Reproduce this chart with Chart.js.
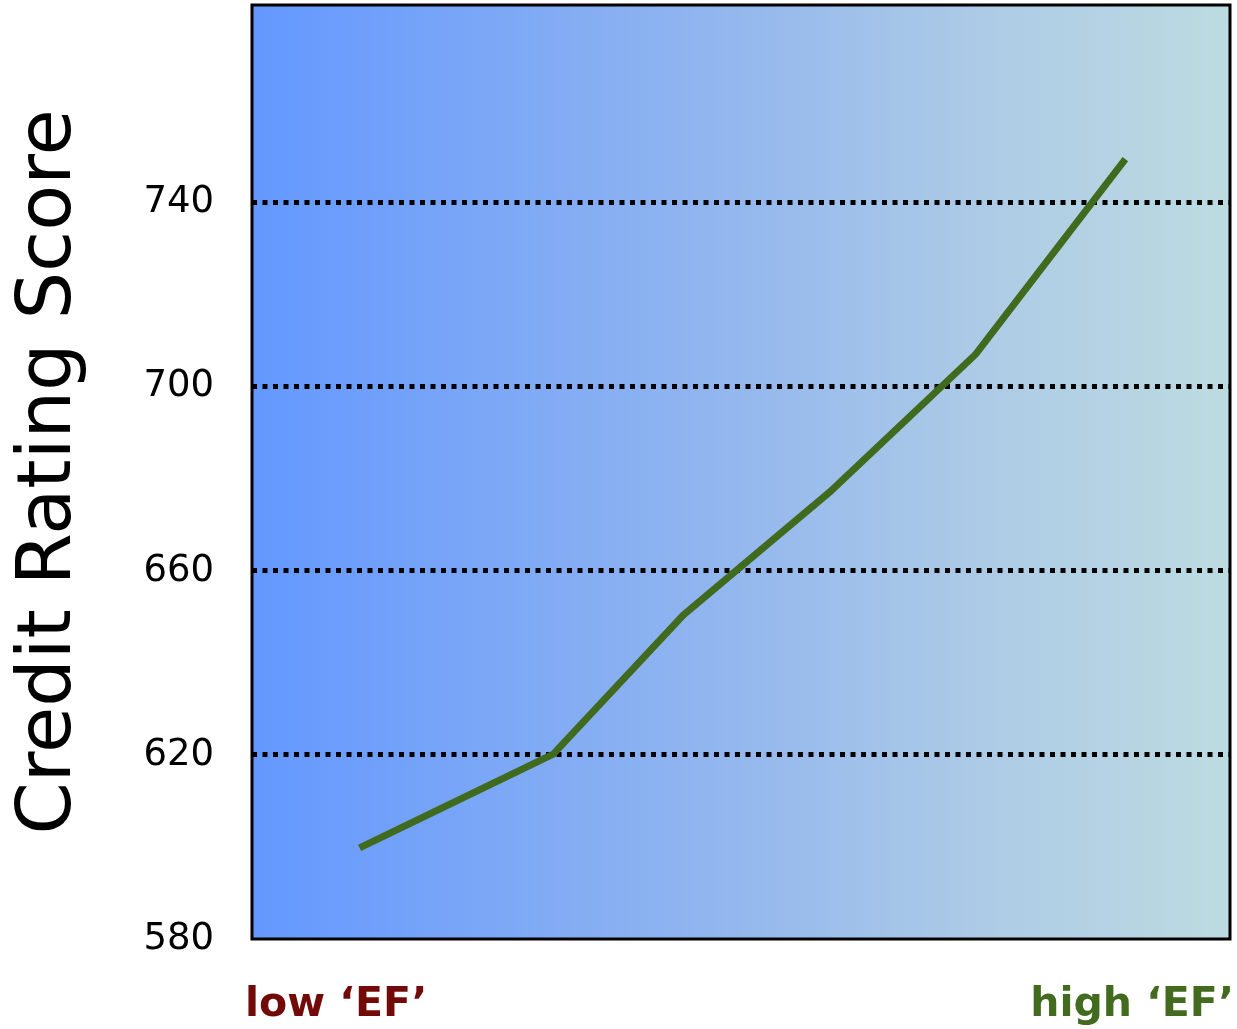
<!DOCTYPE html>
<html>
<head>
<meta charset="utf-8">
<script src="https://cdn.jsdelivr.net/npm/chart.js@4/dist/chart.umd.min.js"></script>
<style>
  html, body { margin: 0; padding: 0; background: #ffffff; }
  #wrap { width: 1237px; height: 1029px; position: relative; }
</style>
</head>
<body>
<div id="wrap"><canvas id="chart" width="1237" height="1029"></canvas></div>
<script>
// Position along the 'EF' axis (0 = left edge, 100 = right edge)
const efPositions = [11.0, 30.8, 44.1, 59.1, 74.0, 89.3];
// Credit rating score at each position
const creditScores = [599.8, 620.2, 650.4, 677.2, 707.1, 749.5];
// Score tick values and the end labels of the 'EF' axis
const scoreTicks = [580, 620, 660, 700, 740];
const efTickPositions = [8.6, 90.0];
const efTickLabels = ["low \u2018EF\u2019", "high \u2018EF\u2019"];
const efTickColors = ["#730a0a", "#436b1f"];

const points = efPositions.map((x, i) => ({ x: x, y: creditScores[i] }));

// Horizontal blue-to-teal wash behind the plot, plus the black frame
const plotBackground = {
  id: 'plotBackground',
  beforeDraw(chart) {
    const { ctx, chartArea: a } = chart;
    const g = ctx.createLinearGradient(a.left, 0, a.right, 0);
    g.addColorStop(0, '#6498ff');
    g.addColorStop(0.45, '#8fb4ef');
    g.addColorStop(0.75, '#adcbe6');
    g.addColorStop(1, '#bcdbe0');
    ctx.save();
    ctx.fillStyle = g;
    ctx.fillRect(a.left, a.top, a.right - a.left, a.bottom - a.top);
    ctx.restore();
  },
  afterDraw(chart) {
    const { ctx, chartArea: a } = chart;
    ctx.save();
    ctx.strokeStyle = '#000000';
    ctx.lineWidth = 3;
    ctx.strokeRect(a.left, a.top, a.right - a.left, a.bottom - a.top);
    ctx.restore();
  }
};

// Keep tick labels from pushing the plot edges inward
function noEdgePadding(scale) {
  scale.paddingLeft = 0;
  scale.paddingRight = 0;
  scale.paddingTop = 0;
  scale.paddingBottom = 0;
}

new Chart(document.getElementById('chart'), {
  type: 'line',
  data: {
    datasets: [{
      data: points,
      borderColor: '#406b1e',
      borderWidth: 7,
      borderCapStyle: 'butt',
      borderJoinStyle: 'miter',
      tension: 0,
      pointRadius: 0,
      pointHoverRadius: 0,
      fill: false
    }]
  },
  options: {
    responsive: false,
    animation: false,
    events: [],
    layout: { padding: { top: 5, right: 7, left: 0, bottom: 0 } },
    plugins: {
      legend: { display: false },
      tooltip: { enabled: false }
    },
    scales: {
      x: {
        type: 'linear',
        min: 0,
        max: 100,
        grid: { display: false, drawTicks: false },
        border: { display: false },
        afterBuildTicks(scale) {
          scale.ticks = efTickPositions.map(v => ({ value: v }));
        },
        afterFit(scale) { scale.height = 90; noEdgePadding(scale); },
        ticks: {
          padding: 42,
          maxRotation: 0,
          autoSkip: false,
          font: { family: 'DejaVu Sans', size: 41, weight: 'bold' },
          color: (c) => efTickColors[c.index],
          callback: (v, i) => efTickLabels[i]
        }
      },
      y: {
        type: 'linear',
        min: 580,
        max: 783,
        afterBuildTicks(scale) {
          scale.ticks = scoreTicks.map(v => ({ value: v }));
        },
        afterFit(scale) { scale.width = 252; noEdgePadding(scale); },
        grid: {
          drawTicks: false,
          color: (c) => (c.tick && c.tick.value === 580) ? 'rgba(0,0,0,0)' : '#000000',
          lineWidth: 5
        },
        border: { display: false, dash: [5, 5.5] },
        ticks: {
          padding: 38,
          font: { family: 'DejaVu Sans', size: 37 },
          color: '#000000',
          callback: (v) => String(v)
        },
        title: {
          display: true,
          text: 'Credit Rating Score',
          font: { family: 'DejaVu Sans', size: 75 },
          color: '#000000',
          padding: { top: 6, bottom: 0 }
        }
      }
    }
  },
  plugins: [plotBackground]
});
</script>
</body>
</html>
